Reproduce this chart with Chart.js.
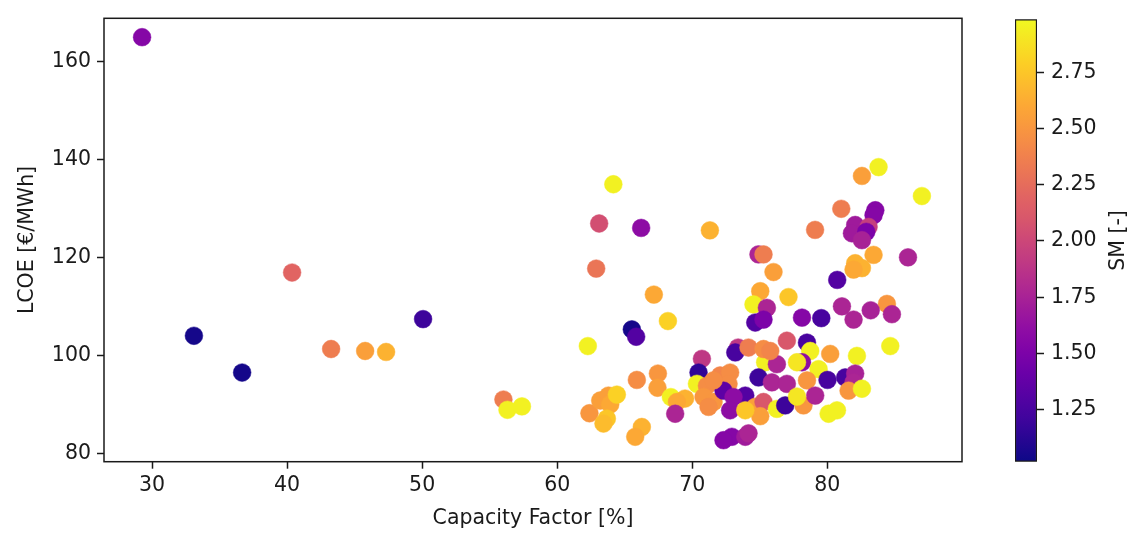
<!DOCTYPE html>
<html>
<head>
<meta charset="utf-8">
<script src="https://cdn.jsdelivr.net/npm/chart.js@4.4.1/dist/chart.umd.min.js"></script>
<style>
  html, body { margin: 0; padding: 0; background: #fff; }
  #wrap { position: relative; width: 1138px; height: 534px; }
  canvas { position: absolute; left: 0; top: 0; }
</style>
</head>
<body>
<div id="wrap">
  <canvas id="main" width="1138" height="534"></canvas>
  <canvas id="cbar" width="1138" height="534"></canvas>
</div>
<script>
// ---- Data ----
const capacityFactor = [
  29.26,33.1,36.67,40.37,43.26,45.78,47.33,50.07,56.02,56.32,57.39,
  62.27,62.39,63.19,63.8,63.93,64.42,63.68,63.43,65.53,65.85,68.2,65.9,67.46,67.43,66.27,65.78,68.42,69.47,68.87,68.74,64.16,63.11,66.22,71.31,62.89,67.16,
  83.8,82.57,87.01,81.04,83.56,83.43,82.07,83.06,81.83,82.89,82.57,79.1,74.91,75.28,76.02,83.43,82.07,82.57,81.95,85.98,80.74,75.04,77.13,74.54,75.53,84.42,81.09,83.22,
  74.67,75.28,78.13,79.56,81.95,84.79,84.67,77.01,78.5,78.74,80.22,82.2,75.4,76.27,78.13,77.76,79.36,74.91,75.9,77.01,78.5,80.02,81.33,82.07,81.95,81.58,82.57,73.93,74.67,75.28,76.27,76.89,78.24,79.11,80.1,80.72,75.04,77.76,
  73.4,73.19,74.17,75.28,75.78,70.72,70.47,70.35,71.09,70.84,71.58,71.21,72.07,72.81,72.69,72.32,73.06,72.81,73.93,72.94,72.32,73.93,74.17,71.58
];
const lcoe = [
  164.9,104.0,96.5,116.9,101.3,100.9,100.7,107.4,91.0,88.9,89.6,
  101.9,88.2,90.8,91.8,90.0,92.0,87.1,86.1,105.3,103.8,107.0,95.0,96.3,93.4,85.4,83.4,91.5,91.2,90.5,88.1,134.9,126.9,126.0,125.5,117.7,112.4,
  138.4,136.6,132.5,129.9,129.6,128.6,126.6,126.2,124.9,125.2,123.5,125.6,120.6,120.6,117.0,120.5,118.8,117.8,117.5,120.0,115.4,113.1,111.9,110.4,109.7,110.5,110.0,109.2,
  106.7,107.3,107.7,107.6,107.3,108.4,101.9,103.0,102.6,100.9,100.3,99.9,98.6,98.2,98.6,98.6,97.2,95.5,94.5,94.2,94.9,95.0,95.5,96.3,94.5,92.8,93.2,91.8,89.5,90.5,89.1,89.8,89.8,91.8,88.1,88.8,87.6,91.6,
  101.6,100.6,101.6,101.3,100.9,99.3,96.5,94.2,93.8,91.5,90.5,89.5,95.9,96.5,94.2,92.8,91.5,88.8,88.8,83.4,82.7,83.4,84.1,94.9
];
const sm = [
  1.55,1.05,1.05,2.2,2.35,2.55,2.65,1.2,2.35,2.95,2.95,
  2.95,2.5,2.55,2.55,2.6,2.8,2.75,2.7,1.05,1.3,2.8,2.45,2.5,2.55,2.65,2.6,2.95,2.65,2.6,1.77,2.95,2.05,1.6,2.65,2.3,2.6,
  2.95,2.55,2.95,2.35,1.55,1.55,1.7,1.95,1.7,1.5,1.75,2.35,1.77,2.35,2.55,2.6,2.65,2.65,2.6,1.77,1.3,2.6,2.75,2.95,1.77,2.5,1.77,1.75,
  1.3,1.5,1.55,1.25,1.77,1.77,2.95,2.1,1.25,2.95,2.55,2.95,2.95,1.77,1.6,2.9,2.95,1.2,1.77,1.77,2.5,1.25,1.25,1.75,1.77,2.5,2.95,1.3,2.55,2.1,2.95,1.2,2.5,1.77,2.95,2.95,2.55,2.9,
  1.9,1.25,2.35,2.45,2.4,1.9,1.15,2.95,2.45,2.5,2.5,2.45,2.4,2.45,2.45,1.35,1.6,1.6,2.75,1.55,1.55,1.7,1.77,2.45
];
const xTicks = [30, 40, 50, 60, 70, 80];
const yTicks = [80, 100, 120, 140, 160];
const smTicks = [1.25, 1.5, 1.75, 2.0, 2.25, 2.5, 2.75];
const xRange = [26.44, 89.98];
const yRange = [78.32, 168.75];
const smRange = [1.019, 2.985];

// ---- plasma colormap ----
const plasmaStops = [
  [0.0, '#0d0887'], [0.1, '#41049d'], [0.2, '#6a00a8'], [0.25, '#7e03a8'], [0.3, '#8f0da4'],
  [0.4, '#b12a90'], [0.5, '#cc4778'], [0.55, '#d8576b'], [0.6, '#e16462'], [0.7, '#f2844b'],
  [0.75, '#f89540'], [0.8, '#fca636'], [0.9, '#fcce25'], [1.0, '#f0f921']
];
function hexToRgb(h) { return [parseInt(h.slice(1,3),16), parseInt(h.slice(3,5),16), parseInt(h.slice(5,7),16)]; }
function plasma(t) {
  t = Math.max(0, Math.min(1, t));
  for (let i = 1; i < plasmaStops.length; i++) {
    if (t <= plasmaStops[i][0]) {
      const [t0, c0] = plasmaStops[i-1], [t1, c1] = plasmaStops[i];
      const f = (t - t0) / (t1 - t0);
      const a = hexToRgb(c0), b = hexToRgb(c1);
      return 'rgb(' + a.map((v, k) => Math.round(v + (b[k] - v) * f)).join(',') + ')';
    }
  }
  return plasmaStops[plasmaStops.length-1][1];
}
const smColor = v => plasma((v - smRange[0]) / (smRange[1] - smRange[0]));

const FONT = { family: 'DejaVu Sans', size: 20.5 };
const TXT = '#1a1a1a';
const axisGrid = { display: true, drawOnChartArea: false, drawTicks: true, tickLength: 7, tickColor: '#1a1a1a', tickWidth: 1.5 };

const framePlugin = {
  id: 'frame',
  afterDatasetsDraw(chart) {
    const { ctx, chartArea: a } = chart;
    ctx.save();
    ctx.strokeStyle = '#1a1a1a';
    ctx.lineWidth = 1.5;
    ctx.strokeRect(a.left, a.top, a.right - a.left, a.bottom - a.top);
    ctx.restore();
  }
};

new Chart(document.getElementById('main'), {
  type: 'scatter',
  data: {
    datasets: [{
      data: capacityFactor.map((x, i) => ({ x: x, y: lcoe[i] })),
      pointBackgroundColor: sm.map(smColor),
      pointBorderColor: sm.map(smColor),
      pointBorderWidth: 0.5,
      pointRadius: 8.9,
      pointHoverRadius: 8.9
    }]
  },
  options: {
    responsive: false,
    animation: false,
    events: [],
    layout: { padding: { top: 15, right: 176, left: 0, bottom: 0 } },
    plugins: { legend: { display: false }, tooltip: { enabled: false } },
    scales: {
      x: {
        type: 'linear', min: xRange[0], max: xRange[1],
        afterBuildTicks: s => { s.ticks = xTicks.map(v => ({ value: v })); },
        afterFit: s => { s.height = 72.3; },
        grid: axisGrid,
        border: { display: false },
        ticks: { font: FONT, color: TXT, padding: 5, maxRotation: 0 },
        title: { display: true, text: 'Capacity Factor [%]', font: FONT, color: TXT, padding: { top: 0, bottom: 3 } }
      },
      y: {
        type: 'linear', min: yRange[0], max: yRange[1],
        afterBuildTicks: s => { s.ticks = yTicks.map(v => ({ value: v })); },
        afterFit: s => { s.width = 104; },
        grid: axisGrid,
        border: { display: false },
        ticks: { font: FONT, color: TXT, padding: 6 },
        title: { display: true, text: 'LCOE [€/MWh]', font: FONT, color: TXT, padding: { top: 15, bottom: 0 } }
      }
    }
  },
  plugins: [framePlugin]
});

// ---- colorbar ----
function cbGradient(chart) {
  const y = chart.scales.y;
  if (!y || !chart.chartArea) return plasma(0.5);
  const g = chart.ctx.createLinearGradient(0, y.getPixelForValue(smRange[0]), 0, y.getPixelForValue(smRange[1]));
  for (let i = 0; i <= 40; i++) g.addColorStop(i / 40, plasma(i / 40));
  return g;
}
const cbLabelPlugin = {
  id: 'cbLabel',
  afterDraw(chart) {
    const { ctx, chartArea: a } = chart;
    ctx.save();
    ctx.fillStyle = TXT;
    ctx.font = FONT.size + 'px "' + FONT.family + '"';
    ctx.textAlign = 'center';
    ctx.textBaseline = 'middle';
    ctx.translate(1119, (a.top + a.bottom) / 2);
    ctx.rotate(-Math.PI / 2);
    ctx.fillText('SM [-]', 0, 0);
    ctx.restore();
  }
};
new Chart(document.getElementById('cbar'), {
  type: 'bar',
  data: {
    labels: [''],
    datasets: [{
      data: [smRange],
      backgroundColor: ctx => cbGradient(ctx.chart),
      borderColor: '#1a1a1a',
      borderWidth: 1.5,
      borderSkipped: false,
      barPercentage: 1,
      categoryPercentage: 1
    }]
  },
  options: {
    responsive: false,
    animation: false,
    events: [],
    layout: { padding: { left: 1015, top: 15, bottom: 72.3, right: 0 } },
    plugins: { legend: { display: false }, tooltip: { enabled: false } },
    scales: {
      x: { display: false },
      y: {
        position: 'right', min: smRange[0], max: smRange[1],
        afterBuildTicks: s => { s.ticks = smTicks.map(v => ({ value: v })); },
        afterFit: s => { s.width = 101; },
        grid: axisGrid,
        border: { display: false },
        ticks: { font: FONT, color: TXT, padding: 7, callback: v => Number(v).toFixed(2) }
      }
    }
  },
  plugins: [cbLabelPlugin]
});
</script>
</body>
</html>
